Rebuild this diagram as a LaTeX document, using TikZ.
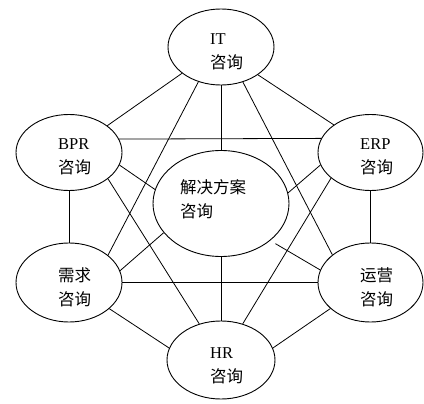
\documentclass[tikz,border=0pt]{standalone}
\usepackage{fontspec}
\setmainfont{Liberation Serif}
\newfontfamily\cjk{Noto Sans CJK SC}
\usetikzlibrary{shapes.geometric}
\tikzset{
  oval/.style={ellipse, draw=black, line width=0.9pt, fill=white, inner sep=0pt,
    minimum width=106pt, minimum height=76pt},
  bigoval/.style={oval, minimum width=136pt, minimum height=106pt},
  lbl/.style={anchor=west, inner sep=0pt, align=left,
    font=\fontsize{16.5}{24}\selectfont},
  link/.style={draw=black, line width=0.8pt}
}
\begin{document}
\begin{tikzpicture}[x=1pt,y=-1pt]
\useasboundingbox (0,0) rectangle (424,404);
% ellipses
\node[oval] (IT)  at (221,47) {};
\node[oval] (BPR) at (69,152.5) {};
\node[oval, minimum width=105pt] (ERP) at (370.5,152.5) {};
\node[oval, minimum height=79pt] (XQ)  at (69,282.5) {};
\node[oval, minimum width=105pt, minimum height=79pt] (YY)  at (370.5,282.5) {};
\node[oval, minimum width=108pt, minimum height=78pt] (HR)  at (221,360) {};
\node[bigoval] (C) at (221,203.5) {};
% labels
\node[lbl] (ITt)  at (210,52)    {IT\\{\cjk 咨询}};
\node[lbl] (BPRt) at (58,157)    {BPR\\{\cjk 咨询}};
\node[lbl] (ERPt) at (360,157)   {ERP\\{\cjk 咨询}};
\node[lbl] (XQt)  at (58,287)    {{\cjk 需求}\\{\cjk 咨询}};
\node[lbl] (YYt)  at (360,287)   {{\cjk 运营}\\{\cjk 咨询}};
\node[lbl] (HRt)  at (210,365.5) {HR\\{\cjk 咨询}};
\node[lbl] (Ct)   at (180,199)   {{\cjk 解决方案}\\{\cjk 咨询}};
% connectors
\draw[link] (IT.214.3) -- (BPR.35.2);
\draw[link] (IT.323.4) -- (ERP.143.7);
\draw[link] (IT.237.7) -- (XQ.35.2);
\draw[link] (IT.302.3) -- (YY.144.5);
\draw[link] (IT.south) -- (C.north);
\draw[link] (C.south) -- (HR.north);
\draw[link] (BPR.15.2) -- (ERP.164.8);
\draw[link] (BPR.south) -- (XQ.north);
\draw[link] (BPR.346) -- (C.168);
\draw[link] (BPR.326) -- (HR.121.9);
\draw[link] (ERP.194.3) -- (C.9.3);
\draw[link] (ERP.south) -- (YY.north);
\draw[link] (ERP.213) -- (HR.59);
\draw[link] (XQ.13) -- (C.207.8);
\draw[link] (XQ.east) -- (YY.west);
\draw[link] (XQ.327) -- (HR.167);
\draw[link, shorten <=6pt] (C.323) -- (YY.166.8);
\draw[link] (YY.213.5) -- (HR.13);
\end{tikzpicture}
\end{document}
